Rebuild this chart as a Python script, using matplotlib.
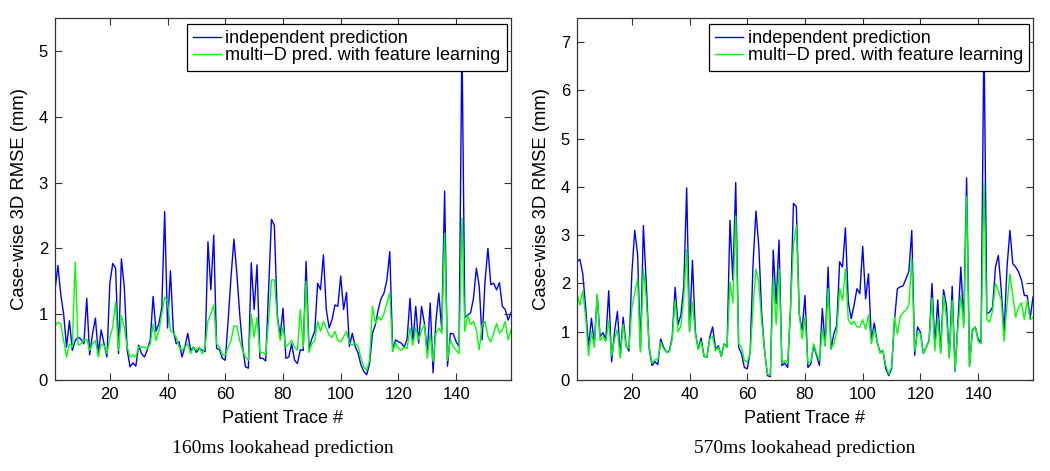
import numpy as np
import matplotlib
matplotlib.use("Agg")
import matplotlib.pyplot as plt

# ---- data ----
left_independent = [
    1.37, 1.74, 1.3, 1.0, 0.5, 0.9, 0.45, 0.6, 0.65, 0.62,
    0.55, 1.24, 0.38, 0.7, 0.94, 0.4, 0.76, 0.55, 0.35, 1.47,
    1.77, 1.7, 0.4, 1.84, 1.42, 0.46, 0.2, 0.26, 0.21, 0.53,
    0.4, 0.35, 0.46, 0.61, 1.27, 0.74, 0.86, 1.1, 2.56, 0.79,
    1.66, 0.76, 0.55, 0.58, 0.35, 0.5, 0.71, 0.45, 0.5, 0.42,
    0.48, 0.45, 0.43, 2.1, 1.37, 2.2, 0.48, 0.46, 0.33, 0.3,
    0.91, 1.57, 2.14, 1.62, 1.0, 0.5, 0.2, 0.18, 1.78, 1.07,
    1.75, 0.33, 0.33, 0.29, 1.37, 2.44, 2.35, 1.0, 0.66, 1.09,
    0.33, 0.35, 0.55, 0.3, 0.25, 0.46, 0.45, 1.8, 0.48, 0.63,
    0.74, 1.47, 1.37, 1.9, 1.07, 0.79, 0.92, 1.14, 1.12, 1.58,
    1.07, 1.33, 0.51, 0.71, 0.51, 0.41, 0.23, 0.13, 0.08, 0.25,
    0.71, 0.84, 1.07, 1.24, 1.32, 1.52, 1.95, 0.46, 0.61, 0.58,
    0.56, 0.5, 0.62, 1.24, 0.56, 1.12, 0.56, 1.12, 0.86, 0.41,
    1.17, 0.11, 0.91, 1.32, 0.76, 2.87, 0.21, 0.71, 0.7, 0.58,
    0.51, 5.2, 0.95, 0.99, 1.02, 1.24, 1.7, 1.42, 0.61, 1.5,
    2.0, 1.45, 1.47, 1.37, 1.48, 1.12, 1.07, 0.91, 1.02,
]
left_multiD = [
    0.82, 0.88, 0.85, 0.6, 0.35, 0.55, 0.5, 1.79, 0.53, 0.55,
    0.6, 0.62, 0.45, 0.55, 0.6, 0.35, 0.55, 0.52, 0.4, 0.65,
    0.8, 1.18, 0.45, 0.98, 0.8, 0.5, 0.35, 0.38, 0.35, 0.5,
    0.5, 0.5, 0.48, 0.55, 0.85, 0.6, 0.75, 1.0, 1.26, 1.2,
    0.75, 0.72, 0.65, 0.5, 0.45, 0.5, 0.55, 0.4, 0.5, 0.45,
    0.5, 0.4, 0.5, 0.9, 1.0, 1.14, 0.55, 0.5, 0.38, 0.38,
    0.5, 0.6, 0.82, 0.82, 0.6, 0.45, 0.35, 0.3, 1.0, 0.65,
    0.95, 0.42, 0.42, 0.38, 0.9, 1.52, 1.52, 0.95, 0.6, 0.8,
    0.5, 0.55, 0.6, 0.5, 0.45, 1.07, 0.5, 1.5, 0.42, 0.55,
    0.6, 0.89, 0.74, 0.89, 0.79, 0.68, 0.65, 0.74, 0.6, 0.58,
    0.66, 0.74, 0.56, 0.53, 0.56, 0.51, 0.33, 0.2, 0.15, 0.3,
    1.12, 0.86, 0.96, 0.91, 1.01, 1.17, 1.32, 0.43, 0.56, 0.48,
    0.45, 0.5, 0.48, 0.79, 0.53, 0.79, 0.61, 0.76, 0.84, 0.33,
    0.71, 0.28, 0.71, 0.79, 0.71, 2.23, 0.3, 0.61, 0.51, 0.45,
    0.4, 2.46, 0.74, 0.99, 0.84, 0.89, 0.76, 0.46, 0.84, 0.89,
    0.66, 0.58, 0.71, 0.86, 0.71, 0.76, 0.89, 0.61, 0.76,
]
right_independent = [
    2.45, 2.5, 2.2, 1.5, 0.7, 1.28, 0.75, 1.75, 0.9, 0.98,
    0.85, 1.85, 0.38, 1.0, 1.42, 0.5, 1.3, 0.72, 0.6, 2.2,
    3.1, 2.6, 0.6, 3.2, 2.0, 0.65, 0.3, 0.38, 0.32, 0.85,
    0.68, 0.58, 0.6, 0.9, 1.92, 1.15, 1.35, 1.95, 3.98, 1.0,
    2.48, 1.0, 0.64, 0.87, 0.49, 0.47, 0.89, 1.1, 0.64, 0.71,
    0.49, 0.75, 0.68, 3.31, 2.07, 4.09, 0.68, 0.54, 0.26, 0.23,
    0.58, 2.4, 3.5, 2.76, 1.37, 0.61, 0.09, 0.07, 2.69, 1.58,
    2.9, 0.3, 0.35, 0.26, 1.5, 3.66, 3.59, 1.37, 1.03, 1.75,
    0.26, 0.33, 0.71, 0.51, 0.3, 1.48, 0.71, 2.34, 0.64, 0.96,
    1.13, 2.45, 2.34, 3.15, 1.61, 1.27, 1.55, 1.89, 1.79, 2.77,
    1.68, 2.2, 0.82, 1.18, 0.78, 0.58, 0.61, 0.23, 0.09, 0.23,
    1.23, 1.89, 1.93, 1.95, 2.1, 2.25, 3.1, 0.51, 1.1, 0.99,
    0.55, 0.68, 0.82, 2.0, 0.71, 1.66, 0.58, 1.87, 1.55, 0.47,
    1.94, 0.18, 1.22, 2.34, 1.18, 4.19, 0.28, 1.03, 1.1, 0.85,
    0.78, 7.2, 1.37, 1.41, 1.51, 2.34, 2.58, 1.86, 0.99, 2.34,
    3.1, 2.41, 2.34, 2.24, 2.07, 1.75, 1.75, 1.27, 1.72,
]
right_multiD = [
    1.78, 1.55, 1.85, 1.3, 0.5, 1.0, 0.68, 1.78, 0.82, 0.9,
    0.8, 1.22, 0.5, 0.85, 1.05, 0.45, 1.15, 0.7, 0.65, 1.5,
    1.8, 2.1, 0.58, 2.3, 1.7, 0.7, 0.35, 0.42, 0.42, 0.78,
    0.65, 0.58, 0.58, 0.85, 1.65, 1.0, 1.12, 1.7, 2.7, 1.0,
    1.61, 0.95, 0.64, 0.8, 0.5, 0.47, 0.85, 0.9, 0.6, 0.68,
    0.5, 0.75, 0.68, 2.03, 1.6, 3.4, 0.75, 0.68, 0.4, 0.38,
    0.55, 1.5, 2.3, 2.0, 1.2, 0.6, 0.12, 0.1, 2.1, 1.15,
    2.3, 0.35, 0.4, 0.35, 1.5, 2.8, 3.2, 1.37, 0.85, 1.3,
    0.35, 0.38, 0.75, 0.55, 0.4, 1.05, 0.7, 1.9, 0.65, 0.75,
    1.0, 1.9, 1.65, 2.3, 1.25, 1.15, 1.22, 1.1, 1.1, 1.25,
    1.05, 1.35, 0.75, 1.05, 0.8, 0.55, 0.62, 0.3, 0.12, 0.28,
    1.3, 0.95, 1.3, 1.4, 1.45, 1.55, 2.5, 0.6, 1.0, 0.95,
    0.55, 0.68, 0.8, 1.7, 0.6, 1.3, 0.55, 1.75, 1.3, 0.45,
    1.65, 0.2, 1.1, 1.75, 1.08, 3.8, 0.28, 1.0, 1.1, 0.8,
    0.75, 4.1, 1.25, 1.2, 1.45, 2.0, 1.85, 1.65, 0.8, 1.55,
    2.2, 1.75, 1.3, 1.5, 1.6, 1.25, 1.65, 1.25, 1.3,
]
series_labels = ["independent prediction", "multi\u2212D pred. with feature learning"]
captions = ["160ms lookahead prediction", "570ms lookahead prediction"]
x_ticks = [20, 40, 60, 80, 100, 120, 140]
left_yticks = [0, 1, 2, 3, 4, 5]
right_yticks = [0, 1, 2, 3, 4, 5, 6, 7]
xlabel = "Patient Trace #"
ylabel = "Case-wise 3D RMSE (mm)"

plt.rcParams['font.family'] = ['Liberation Sans', 'DejaVu Sans']

fig = plt.figure(figsize=(10.5, 4.71), dpi=100)
W, H = 1050, 471
def ax_rect(x0, x1, y0, y1):
    return [x0 / W, 1 - y1 / H, (x1 - x0) / W, (y1 - y0) / H]

panels = [
    (ax_rect(55, 511, 18, 380), left_independent, left_multiD, 5.5, left_yticks, captions[0], (0.991, 0.983)),
    (ax_rect(577, 1033, 18, 380), right_independent, right_multiD, 7.5, right_yticks, captions[1], (0.992, 0.983)),
]

for rect, ind, mul, ymax, yt, cap, anchor in panels:
    ax = fig.add_axes(rect)
    x = np.arange(1, len(ind) + 1)
    ax.plot(x, ind, color=(0, 0, 1), lw=1.0, label=series_labels[0])
    ax.plot(x, mul, color=(0, 1, 0), lw=1.0, label=series_labels[1])
    ax.set_xlim(1, len(ind))
    ax.set_ylim(0, ymax)
    ax.set_xticks(x_ticks)
    ax.set_yticks(yt)
    ax.tick_params(direction='in', length=5, width=0.8, top=True, right=True,
                   labelsize=12, pad=5, colors='#333333', labelcolor='black')
    for s in ax.spines.values():
        s.set_linewidth(0.9)
        s.set_color('#333333')
    ax.set_xlabel(xlabel, fontsize=13, labelpad=6)
    ax.set_ylabel(ylabel, fontsize=13.3, labelpad=8)
    leg = ax.legend(loc='upper right', bbox_to_anchor=anchor, borderaxespad=0,
                    fontsize=13, frameon=True, fancybox=False,
                    borderpad=0.35, handlelength=1.55, handletextpad=0.25,
                    labelspacing=0.0, framealpha=1)
    leg.get_frame().set_edgecolor('black')
    leg.get_frame().set_linewidth(0.9)
    ax.text(0.5, -0.188, cap, transform=ax.transAxes, ha='center', va='center',
            fontsize=14, family=['Liberation Serif', 'DejaVu Serif'])

fig.savefig("out.png", dpi=100)
